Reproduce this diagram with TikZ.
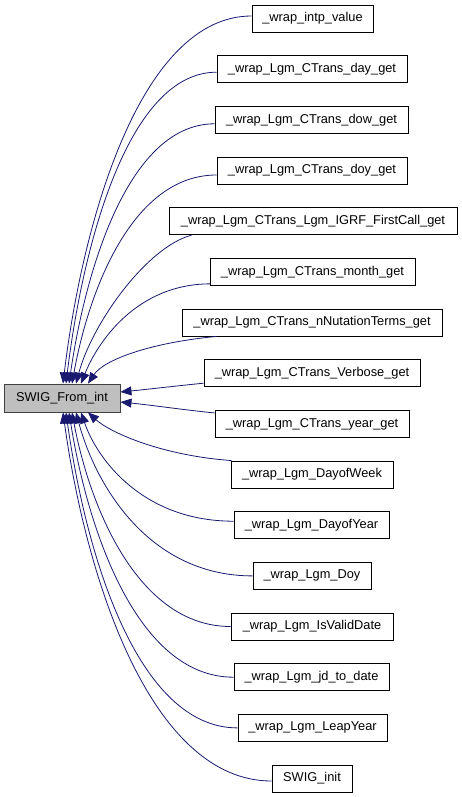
\documentclass[tikz,border=0pt]{standalone}
\usepackage{fontspec}
\setmainfont{Liberation Sans}
\usetikzlibrary{arrows.meta,calc}
\definecolor{edgeblue}{HTML}{191970}
\definecolor{boxgray}{HTML}{BFBFBF}
\definecolor{boxline}{HTML}{404040}
\begin{document}
\begin{tikzpicture}[x=1pt,y=-1pt,
  fn/.style={draw=black,line width=0.9pt,fill=white,minimum height=27pt,inner sep=0pt,
    font=\fontsize{12.8}{15}\selectfont,anchor=center},
  main/.style={fn,fill=boxgray,draw=boxline,minimum height=28pt},
  edge/.style={draw=edgeblue,line width=0.8pt,-{Triangle[length=11pt,width=9pt]}},
]
\useasboundingbox (0,0) rectangle (461,797);
\node[main,minimum width=116pt] (t) at (62,398) {SWIG\_From\_int};

\node[fn,minimum width=121pt] (n1) at (312.5,18.5) {\_wrap\_intp\_value};
\node[fn,minimum width=190pt] (n2) at (312,69.2) {\_wrap\_Lgm\_CTrans\_day\_get};
\node[fn,minimum width=193pt] (n3) at (311.5,119.8) {\_wrap\_Lgm\_CTrans\_dow\_get};
\node[fn,minimum width=190pt] (n4) at (312,170.5) {\_wrap\_Lgm\_CTrans\_doy\_get};
\node[fn,minimum width=288pt] (n5) at (313,221.2) {\_wrap\_Lgm\_CTrans\_Lgm\_IGRF\_FirstCall\_get};
\node[fn,minimum width=205pt] (n6) at (312.5,271.9) {\_wrap\_Lgm\_CTrans\_month\_get};
\node[fn,minimum width=260pt] (n7) at (312,322.5) {\_wrap\_Lgm\_CTrans\_nNutationTerms\_get};
\node[fn,minimum width=216pt] (n8) at (312,373.2) {\_wrap\_Lgm\_CTrans\_Verbose\_get};
\node[fn,minimum width=194pt] (n9) at (312,423.9) {\_wrap\_Lgm\_CTrans\_year\_get};
\node[fn,minimum width=162pt] (n10) at (312,474.5) {\_wrap\_Lgm\_DayofWeek};
\node[fn,minimum width=155pt] (n11) at (311.5,525.2) {\_wrap\_Lgm\_DayofYear};
\node[fn,minimum width=118pt] (n12) at (312,575.9) {\_wrap\_Lgm\_Doy};
\node[fn,minimum width=162pt] (n13) at (312,626.5) {\_wrap\_Lgm\_IsValidDate};
\node[fn,minimum width=155pt] (n14) at (311.5,677.2) {\_wrap\_Lgm\_jd\_to\_date};
\node[fn,minimum width=149pt] (n15) at (312.5,727.9) {\_wrap\_Lgm\_LeapYear};
\node[fn,minimum width=80pt] (n16) at (312,778.5) {SWIG\_init};

% top edges
\draw[edge] ($(n1.west)+(0,-2.5)$) .. controls +(-110,0) and +(20,-166) .. ($(t.north)+(1,0)$);
\draw[edge] ($(n2.west)+(0,3)$) .. controls +(-88,0) and +(17,-140) .. ($(t.north)+(4,0)$);
\draw[edge] ($(n3.west)+(0,4)$) .. controls +(-85,0) and +(17,-117) .. ($(t.north)+(7,0)$);
\draw[edge] ($(n4.west)+(0,4.5)$) .. controls +(-84,0) and +(17,-94) .. ($(t.north)+(10,0)$);
\draw[edge] ($(n5.south west)+(23,0)$) .. controls +(-45,12) and +(16,-60) .. ($(t.north)+(14,0)$);
\draw[edge] ($(n6.south west)+(1,-2)$) .. controls +(-75,0) and +(16,-40) .. ($(t.north)+(19,0)$);
\draw[edge] ($(n7.south west)+(35,0)$) .. controls +(-65,6) and +(16,-24) .. ($(t.north)+(26,0)$);
% side edges
\draw[edge] ($(n8.west)+(0,10)$) .. controls +(-30,3) and +(30,-3) .. ($(t.east)+(0,-6)$);
\draw[edge] ($(n9.north west)+(0,3)$) .. controls +(-30,-3) and +(30,3) .. ($(t.east)+(0,4)$);
% bottom edges
\draw[edge] ($(n10.north west)+(1,0)$) .. controls +(-70,-5) and +(22,20) .. ($(t.south)+(26,0)$);
\draw[edge] ($(n11.west)+(0,-4)$) .. controls +(-89,0) and +(17,49) .. ($(t.south)+(19,0)$);
\draw[edge] (n12.west) .. controls +(-103,0) and +(20,74) .. ($(t.south)+(14,0)$);
\draw[edge] (n13.west) .. controls +(-92,0) and +(18,96) .. ($(t.south)+(10,0)$);
\draw[edge] (n14.west) .. controls +(-96,0) and +(19,119) .. ($(t.south)+(7,0)$);
\draw[edge] (n15.west) .. controls +(-100,0) and +(20,143) .. ($(t.south)+(4,0)$);
\draw[edge] ($(n16.west)+(0,2.5)$) .. controls +(-121,0) and +(23,166) .. ($(t.south)+(1,0)$);
\end{tikzpicture}
\end{document}
